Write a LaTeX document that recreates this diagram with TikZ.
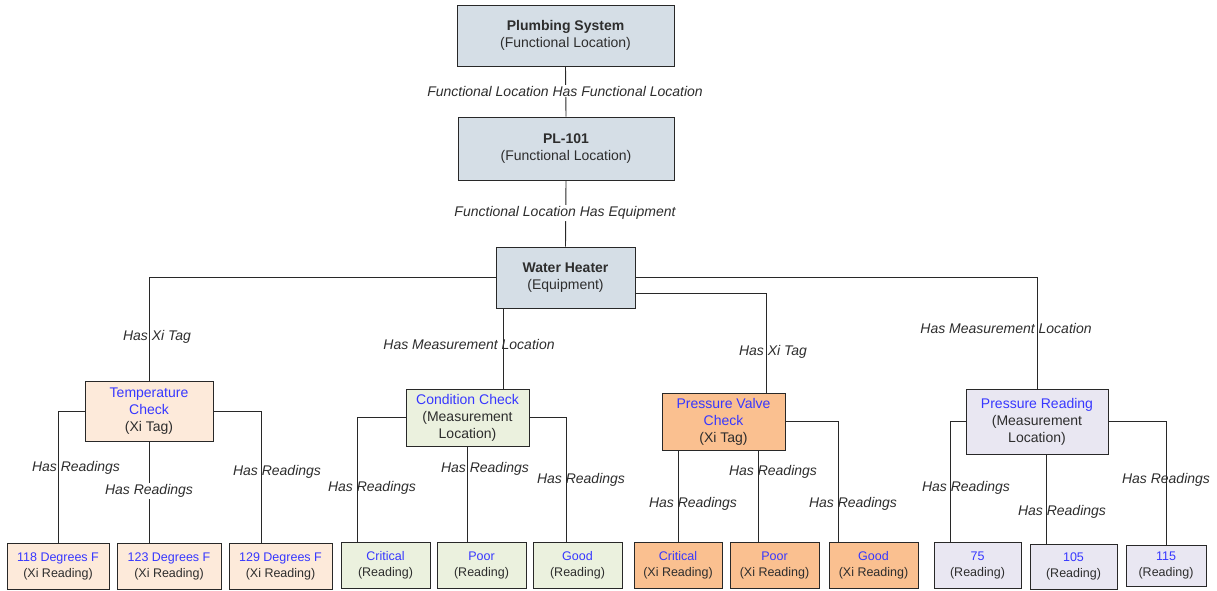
\documentclass[tikz,border=0pt]{standalone}
\usepackage{fontspec}
\setmainfont{Liberation Sans}
\definecolor{hdr}{RGB}{213,222,230}
\definecolor{peach}{RGB}{253,234,218}
\definecolor{lgreen}{RGB}{235,241,222}
\definecolor{orng}{RGB}{250,192,144}
\definecolor{lav}{RGB}{233,231,242}
\definecolor{blu}{RGB}{55,55,255}
\definecolor{txt}{RGB}{45,45,45}
\definecolor{boxline}{RGB}{40,40,40}
\begin{document}
\begin{tikzpicture}[x=1pt,y=1pt,
  box/.style={draw=boxline, line width=0.9pt, inner sep=0pt, align=center, text=txt,
              font=\fontsize{14}{17}\selectfont},
  small/.style={font=\fontsize{12.5}{16}\selectfont},
  lbl/.style={font=\fontsize{14}{16}\selectfont\itshape, text=txt, inner sep=1pt},
  lblw/.style={lbl, fill=white},
  conn/.style={draw=boxline, line width=0.9pt}]
\useasboundingbox (0,0) rectangle (1217,-590);
% top nodes
\node[box, fill=hdr, minimum width=217, minimum height=61] (ps) at (565.5,-35.5)
  {\textbf{Plumbing System}\\(Functional Location)};
\node[box, fill=hdr, minimum width=216, minimum height=63] (pl) at (566,-148.5)
  {\textbf{PL-101}\\(Functional Location)};
\node[box, fill=hdr, minimum width=139, minimum height=61] (wh) at (565.5,-277.5)
  {\textbf{Water Heater}\\(Equipment)};
% middle nodes
\node[box, fill=peach, minimum width=128, minimum height=60] (tc) at (149,-411)
  {{\color{blu}Temperature}\\{\color{blu}Check}\\(Xi Tag)};
\node[box, fill=lgreen, minimum width=123, minimum height=57] (cc) at (467.5,-417.5)
  {{\color{blu}Condition Check}\\(Measurement\\Location)};
\node[box, fill=orng, minimum width=123, minimum height=57] (pv) at (723.5,-421.5)
  {{\color{blu}Pressure Valve}\\{\color{blu}Check}\\(Xi Tag)};
\node[box, fill=lav, minimum width=142, minimum height=65] (pr) at (1037,-421.5)
  {{\color{blu}Pressure Reading}\\(Measurement\\Location)};
% bottom nodes
\node[box, small, fill=peach, minimum width=102, minimum height=46] (t1) at (58,-566)
  {{\color{blu}118 Degrees F}\\(Xi Reading)};
\node[box, small, fill=peach, minimum width=104, minimum height=46] (t2) at (169,-566)
  {{\color{blu}123 Degrees F}\\(Xi Reading)};
\node[box, small, fill=peach, minimum width=103, minimum height=46] (t3) at (280.5,-566)
  {{\color{blu}129 Degrees F}\\(Xi Reading)};
\node[box, small, fill=lgreen, minimum width=89, minimum height=46] (c1) at (385.5,-565)
  {{\color{blu}Critical}\\(Reading)};
\node[box, small, fill=lgreen, minimum width=89, minimum height=46] (c2) at (481.5,-565)
  {{\color{blu}Poor}\\(Reading)};
\node[box, small, fill=lgreen, minimum width=89, minimum height=46] (c3) at (577.5,-565)
  {{\color{blu}Good}\\(Reading)};
\node[box, small, fill=orng, minimum width=88, minimum height=46] (p1) at (678,-565)
  {{\color{blu}Critical}\\(Xi Reading)};
\node[box, small, fill=orng, minimum width=89, minimum height=46] (p2) at (774.5,-565)
  {{\color{blu}Poor}\\(Xi Reading)};
\node[box, small, fill=orng, minimum width=89, minimum height=46] (p3) at (873.5,-565)
  {{\color{blu}Good}\\(Xi Reading)};
\node[box, small, fill=lav, minimum width=87, minimum height=46] (r1) at (977.5,-565)
  {{\color{blu}75}\\(Reading)};
\node[box, small, fill=lav, minimum width=87, minimum height=45] (r2) at (1073.5,-566.5)
  {{\color{blu}105}\\(Reading)};
\node[box, small, fill=lav, minimum width=80, minimum height=41] (r3) at (1166,-565.5)
  {{\color{blu}115}\\(Reading)};
% connectors top
\draw[conn] (ps.south) -- (pl.north);
\draw[conn] (pl.south) -- (wh.north);
\draw[conn] (wh.west) -| (tc.north);
\draw[conn] (wh.east) -| (pr.north);
\draw[conn] ([yshift=-15.5pt]wh.east) -| ([xshift=42.5pt]pv.north);
\draw[conn] ([xshift=35.5pt]cc.north) -- ([xshift=35.5pt]cc.north |- wh.south);
% temperature
\draw[conn] (tc.west) -| (t1.north);
\draw[conn] (tc.south) -- (tc.south |- t2.north);
\draw[conn] (tc.east) -| ([xshift=-19.5pt]t3.north);
% condition
\draw[conn] (cc.west) -| ([xshift=-28.5pt]c1.north);
\draw[conn] (cc.south) -- (cc.south |- c2.north);
\draw[conn] (cc.east) -| ([xshift=-11.5pt]c3.north);
% pressure valve
\draw[conn] (p1.north |- pv.south) -- (p1.north);
\draw[conn] ([xshift=-16.5pt]p2.north |- pv.south) -- ([xshift=-16.5pt]p2.north);
\draw[conn] (pv.east) -| ([xshift=-35.5pt]p3.north);
% pressure reading
\draw[conn] (pr.west) -| ([xshift=-27.5pt]r1.north);
\draw[conn] ([xshift=-27.5pt]r2.north |- pr.south) -- ([xshift=-27.5pt]r2.north);
\draw[conn] (pr.east) -| (r3.north);
% labels
\node[lblw] (l1) at (565,-91) {Functional Location Has Functional Location};
\node[lblw] (l2) at (565,-213) {Functional Location Has Equipment};
\node[lbl] (l3) at (157,-337) {Has Xi Tag};
\node[lbl] (l4) at (469,-344) {Has Measurement Location};
\node[lbl] (l5) at (773,-352) {Has Xi Tag};
\node[lbl] (l6) at (1006,-328) {Has Measurement Location};
\node[lbl] (l7) at (76,-468) {Has Readings};
\node[lblw] (l8) at (149,-491) {Has Readings};
\node[lbl] (l9) at (277,-472) {Has Readings};
\node[lbl] (l10) at (372,-488) {Has Readings};
\node[lbl] (l11) at (485,-469) {Has Readings};
\node[lbl] (l12) at (581,-480) {Has Readings};
\node[lbl] (l13) at (693,-504) {Has Readings};
\node[lbl] (l14) at (773,-472) {Has Readings};
\node[lbl] (l15) at (853,-504) {Has Readings};
\node[lbl] (l16) at (966,-488) {Has Readings};
\node[lbl] (l17) at (1062,-512) {Has Readings};
\node[lbl] (l18) at (1166,-480) {Has Readings};
\end{tikzpicture}
\end{document}
